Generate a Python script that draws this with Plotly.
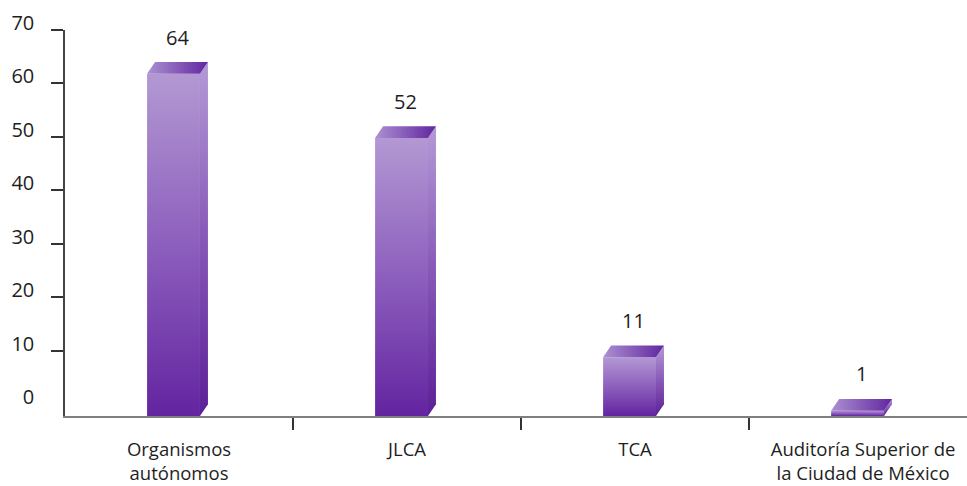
import plotly.graph_objects as go

categories = ["Organismos<br>autónomos", "JLCA", "TCA", "Auditoría Superior de<br>la Ciudad de México"]
values = [64, 52, 11, 1]
y_tickvals = [0, 10, 20, 30, 40, 50, 60, 70]

FONT = "Open Sans"
TXT = "#1e1e1e"

# geometry (category units / value units)
DEPTH_X = 0.035
DEPTH_Y = 2.2
FL, FR = -0.14, 0.092

front_cs = [[0, "#6324a0"], [0.5, "#8d5fbd"], [1, "#b398d3"]]
side_cs = [[0, "#5b2096"], [0.5, "#8758b8"], [1, "#b49ad6"]]
top_cs = [[0, "#ac90d2"], [1, "#6126a0"]]

fig = go.Figure()
for i, v in enumerate(values):
    c = i
    fl, fr = c + FL, c + FR
    b = -DEPTH_Y
    t = v - DEPTH_Y
    # front face
    fig.add_trace(go.Scatter(
        x=[fl, fr, fr, fl, fl], y=[b, b, t, t, b], mode="lines", fill="toself",
        line=dict(width=0), fillgradient=dict(type="vertical", colorscale=front_cs),
        hoverinfo="skip", showlegend=False))
    # side face
    fig.add_trace(go.Scatter(
        x=[fr, fr + DEPTH_X, fr + DEPTH_X, fr, fr], y=[b, 0, v, t, b], mode="lines", fill="toself",
        line=dict(width=0), fillgradient=dict(type="vertical", colorscale=side_cs),
        hoverinfo="skip", showlegend=False))
    # top face
    fig.add_trace(go.Scatter(
        x=[fl, fr, fr + DEPTH_X, fl + DEPTH_X, fl], y=[t, t, v, v, t], mode="lines", fill="toself",
        line=dict(width=0), fillgradient=dict(type="horizontal", colorscale=top_cs),
        hoverinfo="skip", showlegend=False))
    fig.add_annotation(x=c - 0.005, y=v, text=str(v), showarrow=False, yshift=25,
                       font=dict(family=FONT, size=20, color=TXT))

fig.update_layout(
    width=967, height=486,
    margin=dict(l=65, r=0, t=30, b=70),
    paper_bgcolor="white", plot_bgcolor="white",
    font=dict(family=FONT, size=19, color=TXT),
    xaxis=dict(
        range=[-0.5, 3.456], tickmode="array", tickvals=list(range(len(categories))),
        ticktext=categories, ticks="", showgrid=False, zeroline=False,
        showline=True, linecolor="#7f7f7f", linewidth=1.5,
        tickfont=dict(family=FONT, size=18.5, color=TXT),
        ticklabelstandoff=16, automargin=False,
        minor=dict(tickvals=[0.5, 1.5, 2.5], ticks="outside", ticklen=12,
                   tickcolor="#333333", tickwidth=1.5, showgrid=False),
        fixedrange=True,
    ),
    yaxis=dict(
        range=[-DEPTH_Y, 70], tickmode="array", tickvals=y_tickvals,
        ticktext=[str(v) for v in y_tickvals], ticks="", showgrid=False, zeroline=False,
        showline=True, linecolor="#444444", linewidth=1.5,
        tickfont=dict(family=FONT, size=20, color=TXT),
        ticklabelshift=-7, ticklabelstandoff=25, automargin=False,
        minor=dict(tickvals=y_tickvals[1:], ticks="outside", ticklen=12,
                   tickcolor="#333333", tickwidth=1.5, showgrid=False),
        fixedrange=True,
    ),
)

fig.write_html(
    "out.html",
    config={"displayModeBar": False},
    post_script="document.body.style.margin='0';document.body.style.overflow='hidden';",
)
